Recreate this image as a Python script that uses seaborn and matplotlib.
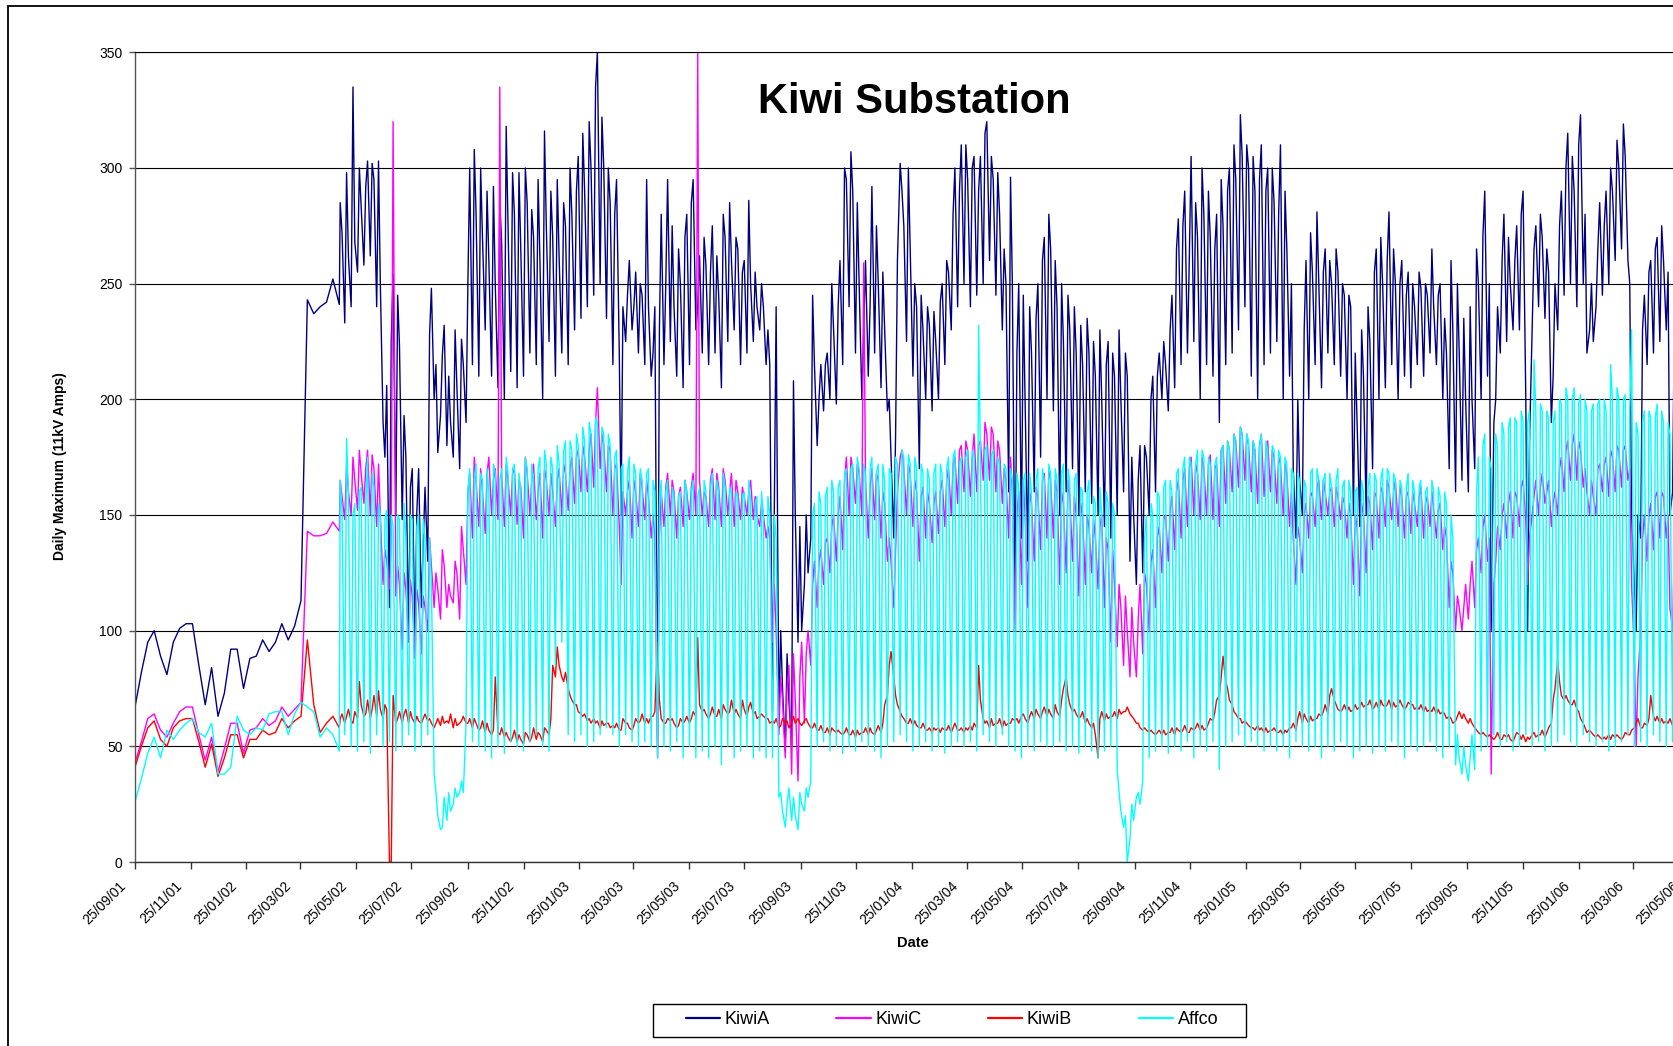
import pandas as pd
import matplotlib
matplotlib.use("Agg")
import matplotlib.pyplot as plt
import matplotlib.dates as mdates
import matplotlib.transforms as mtransforms
from matplotlib.patches import Rectangle
from matplotlib.lines import Line2D
import seaborn as sns

series_names = ["KiwiA", "KiwiC", "KiwiB", "Affco"]
series_colors = ["#000080", "#FF00FF", "#FF0000", "#00FFFF"]

# Weekly readings, 25/09/01 .. 07/05/02
weekly_start = "2001-09-25"
kiwi_a_weekly = [67, 82, 95, 100, 89, 81, 95, 101, 103, 103, 85, 68, 84, 63, 73, 92, 92,
                 75, 88, 89, 96, 91, 95, 103, 96, 102, 113, 243, 237, 240, 242, 252, 241]
kiwi_c_weekly = [43, 52, 62, 64, 57, 54, 60, 65, 67, 67, 55, 44, 54, 39, 49, 60, 60,
                 47, 57, 58, 62, 59, 61, 67, 63, 66, 69, 143, 141, 141, 142, 147, 143]
kiwi_b_weekly = [41, 50, 58, 61, 53, 50, 58, 61, 62, 62, 52, 41, 51, 37, 45, 55, 55,
                 45, 53, 53, 57, 55, 56, 62, 58, 61, 63, 96, 68, 56, 60, 63, 58]
affco_weekly = [26, 36, 47, 54, 45, 57, 53, 57, 60, 62, 56, 54, 60, 38, 38, 41, 63,
                57, 55, 58, 57, 64, 65, 65, 55, 64, 69, 67, 65, 54, 58, 55, 48]

# From 08/05/02: three readings per week (day 0, day 2 and the weekend low on day 5)
daily_start = "2002-05-08"
day_offsets = [0, 2, 5]

kiwi_a = [
    285, 272, 233, 298, 262, 240, 335, 268, 255, 300, 283, 258, 292, 303, 262,
    302, 295, 240, 303, 250, 190, 175, 206, 110, 226, 254, 150, 245, 223, 148,
    193, 175, 100, 162, 170, 95, 151, 170, 110, 137, 162, 130, 228, 248, 200,
    215, 177, 193, 219, 232, 180, 210, 190, 175, 230, 205, 170, 226, 215, 190,
    250, 300, 215, 308, 280, 210, 300, 270, 230, 290, 260, 210, 292, 250, 205,
    285, 268, 200, 318, 275, 212, 298, 280, 205, 298, 265, 210, 300, 285, 220,
    282, 270, 215, 295, 260, 200, 316, 275, 225, 290, 270, 210, 295, 262, 220,
    285, 275, 215, 300, 280, 230, 290, 305, 235, 315, 290, 240, 320, 300, 245,
    335, 350, 250, 322, 300, 235, 300, 285, 215, 280, 295, 220, 150, 240, 225,
    245, 260, 230, 240, 255, 220, 250, 245, 215, 295, 240, 210, 220, 240, 50,
    230, 280, 215, 250, 295, 225, 275, 240, 210, 265, 250, 205, 270, 280, 215,
    285, 295, 230, 240, 262, 220, 270, 258, 215, 255, 275, 220, 262, 245, 205,
    280, 270, 225, 285, 260, 230, 270, 265, 215, 255, 260, 220, 286, 250, 225,
    255, 240, 230, 250, 240, 215, 230, 215, 65, 150, 240, 60, 100, 75, 48,
    90, 70, 50, 208, 150, 95, 145, 100, 120, 150, 125, 140, 245, 215, 180,
    200, 215, 195, 215, 220, 200, 250, 230, 198, 240, 260, 215, 300, 295, 240,
    307, 290, 220, 285, 250, 200, 230, 260, 210, 240, 292, 220, 275, 250, 205,
    255, 230, 195, 200, 175, 140, 185, 260, 302, 290, 275, 225, 300, 265, 210,
    250, 240, 170, 245, 230, 200, 240, 232, 195, 238, 225, 200, 242, 250, 215,
    260, 255, 230, 280, 300, 240, 290, 310, 250, 310, 295, 240, 300, 305, 245,
    290, 305, 250, 315, 320, 260, 305, 295, 245, 298, 280, 230, 265, 250, 160,
    296, 250, 110, 220, 250, 140, 245, 200, 130, 240, 220, 160, 235, 250, 175,
    260, 270, 200, 280, 265, 195, 260, 240, 150, 250, 225, 160, 245, 230, 170,
    240, 220, 150, 232, 215, 160, 235, 220, 155, 225, 210, 150, 230, 200, 145,
    215, 225, 140, 220, 210, 150, 230, 200, 160, 220, 210, 130, 175, 150, 120,
    165, 180, 125, 180, 175, 150, 200, 210, 160, 210, 220, 200, 225, 215, 195,
    230, 245, 205, 265, 278, 215, 275, 290, 220, 260, 305, 225, 285, 270, 200,
    300, 280, 215, 290, 270, 210, 265, 280, 190, 295, 275, 215, 290, 300, 220,
    310, 295, 230, 323, 305, 240, 310, 300, 210, 305, 290, 200, 295, 310, 215,
    290, 300, 220, 300, 285, 225, 280, 310, 200, 290, 265, 210, 250, 170, 140,
    200, 165, 150, 230, 260, 200, 272, 255, 215, 281, 250, 205, 255, 265, 220,
    260, 250, 215, 265, 255, 210, 250, 245, 200, 245, 240, 150, 220, 190, 145,
    230, 210, 150, 240, 225, 170, 255, 265, 200, 270, 250, 205, 260, 281, 215,
    265, 250, 200, 250, 260, 210, 245, 255, 205, 250, 240, 215, 255, 248, 210,
    250, 245, 220, 265, 240, 215, 245, 250, 200, 235, 220, 170, 260, 230, 160,
    250, 220, 165, 235, 200, 160, 240, 200, 170, 265, 250, 200, 271, 290, 210,
    250, 100, 190, 200, 240, 220, 260, 280, 225, 270, 250, 230, 260, 275, 230,
    280, 290, 200, 100, 180, 230, 265, 275, 240, 280, 270, 235, 265, 255, 190,
    210, 250, 230, 275, 290, 245, 300, 315, 250, 305, 290, 240, 310, 323, 250,
    280, 220, 230, 250, 225, 240, 265, 285, 245, 275, 290, 250, 300, 290, 260,
    312, 300, 265, 319, 305, 260, 250, 150, 120, 100, 150, 140, 230, 245, 215,
    255, 260, 220, 265, 270, 225, 275, 260, 230, 255, 150, 160, 240, 230, 200,
]

kiwi_c = [
    165, 158, 148, 172, 160, 150, 175, 165, 152, 178, 168, 155, 170, 178, 150,
    176, 170, 145, 172, 150, 120, 135, 130, 118, 140, 320, 115, 128, 120, 92,
    125, 118, 95, 122, 115, 88, 118, 112, 90, 115, 110, 100, 140, 128, 110,
    125, 118, 105, 135, 128, 110, 120, 115, 112, 130, 125, 105, 145, 135, 120,
    160, 168, 140, 175, 165, 145, 170, 160, 142, 168, 175, 150, 165, 170, 148,
    335, 168, 145, 172, 165, 150, 168, 170, 146, 165, 162, 140, 175, 168, 150,
    165, 172, 148, 160, 168, 140, 170, 165, 150, 168, 160, 145, 165, 170, 150,
    172, 168, 152, 170, 175, 155, 175, 178, 160, 180, 175, 160, 178, 185, 162,
    190, 205, 170, 185, 180, 160, 180, 178, 150, 170, 172, 145, 120, 160, 150,
    160, 165, 140, 165, 160, 145, 168, 162, 148, 165, 158, 140, 150, 140, 45,
    140, 160, 145, 162, 168, 150, 165, 160, 140, 158, 162, 145, 165, 160, 148,
    162, 168, 150, 350, 165, 150, 160, 158, 145, 165, 170, 148, 168, 162, 145,
    170, 165, 150, 160, 168, 145, 165, 160, 148, 162, 158, 150, 160, 165, 148,
    158, 150, 145, 155, 150, 140, 145, 140, 95, 120, 100, 55, 80, 70, 45,
    75, 85, 38, 90, 70, 35, 80, 95, 60, 90, 100, 85, 120, 130, 110,
    130, 135, 120, 138, 140, 125, 145, 150, 130, 150, 158, 135, 165, 175, 150,
    175, 170, 155, 172, 168, 150, 259, 165, 140, 162, 170, 148, 168, 165, 140,
    160, 155, 130, 140, 130, 110, 135, 160, 175, 178, 170, 150, 172, 168, 145,
    165, 160, 130, 158, 162, 140, 160, 155, 138, 155, 160, 142, 160, 165, 145,
    165, 170, 150, 172, 175, 155, 178, 180, 160, 182, 178, 158, 175, 185, 160,
    180, 182, 165, 190, 185, 165, 188, 185, 160, 182, 178, 155, 170, 165, 140,
    175, 160, 100, 150, 160, 120, 165, 150, 110, 160, 155, 130, 162, 158, 135,
    165, 168, 140, 170, 165, 140, 165, 160, 120, 160, 155, 125, 165, 158, 130,
    158, 150, 115, 155, 150, 120, 150, 145, 125, 148, 140, 118, 145, 150, 110,
    140, 135, 95, 135, 120, 93, 120, 110, 85, 115, 100, 80, 110, 95, 80,
    105, 120, 90, 125, 120, 100, 130, 135, 110, 140, 145, 125, 148, 150, 130,
    152, 158, 135, 160, 165, 140, 165, 170, 145, 170, 175, 150, 172, 168, 148,
    175, 170, 150, 172, 176, 148, 170, 172, 145, 178, 180, 155, 182, 178, 160,
    185, 182, 162, 188, 185, 165, 185, 180, 160, 182, 178, 155, 180, 185, 158,
    178, 182, 160, 178, 175, 155, 175, 172, 150, 172, 168, 145, 160, 140, 120,
    145, 140, 125, 150, 155, 140, 160, 158, 145, 162, 165, 148, 165, 160, 150,
    160, 162, 145, 162, 158, 148, 158, 155, 140, 155, 150, 120, 150, 145, 115,
    155, 150, 125, 158, 155, 135, 160, 158, 140, 162, 160, 145, 165, 162, 148,
    160, 165, 145, 162, 158, 140, 158, 160, 142, 160, 155, 145, 158, 162, 140,
    155, 158, 145, 160, 152, 140, 152, 155, 135, 145, 140, 110, 130, 125, 100,
    115, 110, 100, 110, 120, 105, 120, 130, 110, 135, 140, 125, 145, 150, 130,
    140, 38, 120, 130, 145, 135, 150, 155, 140, 155, 160, 140, 160, 158, 145,
    162, 165, 148, 120, 140, 150, 158, 165, 150, 162, 168, 155, 160, 165, 145,
    155, 160, 150, 170, 175, 160, 178, 182, 165, 180, 185, 165, 182, 178, 162,
    170, 160, 150, 165, 158, 150, 170, 172, 160, 172, 175, 158, 178, 175, 160,
    180, 178, 162, 178, 180, 165, 170, 120, 90, 50, 80, 100, 140, 150, 130,
    150, 155, 135, 158, 160, 140, 160, 158, 140, 150, 110, 100, 140, 145, 120,
]

kiwi_b = [
    62, 64, 60, 63, 66, 61, 60, 65, 62, 78, 68, 63, 64, 70, 62,
    66, 72, 63, 74, 66, 62, 68, 66, 0, 0, 72, 60, 62, 65, 60,
    64, 66, 60, 65, 62, 60, 63, 61, 60, 62, 64, 61, 62, 60, 58,
    60, 62, 59, 63, 60, 61, 60, 64, 58, 62, 59, 60, 61, 63, 60,
    60, 62, 58, 62, 60, 57, 58, 61, 56, 60, 57, 55, 57, 80, 56,
    55, 58, 54, 56, 54, 52, 54, 57, 52, 55, 53, 51, 56, 55, 52,
    54, 58, 53, 56, 55, 52, 58, 57, 55, 62, 85, 80, 93, 85, 80,
    78, 82, 75, 72, 70, 68, 68, 65, 64, 63, 64, 61, 62, 60, 62,
    60, 61, 58, 61, 59, 60, 60, 58, 59, 58, 60, 57, 57, 62, 60,
    60, 58, 57, 59, 62, 60, 61, 64, 60, 62, 60, 63, 63, 65, 95,
    70, 62, 60, 60, 62, 61, 62, 60, 58, 59, 62, 60, 61, 63, 60,
    62, 65, 63, 97, 68, 65, 66, 64, 62, 64, 67, 63, 63, 66, 62,
    68, 66, 64, 65, 70, 64, 66, 64, 62, 70, 66, 63, 67, 69, 64,
    65, 62, 63, 64, 63, 62, 62, 60, 61, 60, 62, 58, 59, 62, 60,
    61, 58, 60, 63, 60, 62, 60, 59, 61, 62, 60, 58, 58, 60, 57,
    57, 59, 56, 56, 58, 55, 58, 57, 56, 57, 56, 55, 56, 58, 55,
    55, 57, 54, 57, 55, 56, 56, 58, 55, 58, 56, 55, 57, 59, 56,
    60, 68, 72, 85, 91, 80, 72, 68, 65, 63, 62, 60, 60, 62, 59,
    61, 59, 58, 58, 60, 57, 57, 58, 56, 58, 57, 58, 56, 58, 57,
    57, 59, 56, 58, 60, 57, 57, 58, 56, 58, 57, 59, 57, 60, 58,
    85, 70, 62, 60, 61, 58, 62, 59, 60, 60, 62, 58, 61, 59, 60,
    60, 62, 61, 62, 60, 63, 64, 62, 60, 63, 65, 62, 66, 64, 62,
    65, 67, 63, 66, 64, 62, 68, 65, 63, 70, 75, 80, 72, 68, 65,
    66, 64, 62, 63, 65, 60, 62, 60, 58, 60, 55, 45, 62, 65, 61,
    64, 62, 63, 63, 65, 62, 66, 64, 65, 65, 67, 64, 63, 62, 60,
    60, 58, 57, 58, 57, 56, 57, 56, 55, 56, 57, 55, 57, 55, 56,
    56, 58, 55, 58, 57, 56, 57, 59, 56, 56, 58, 57, 58, 60, 57,
    59, 57, 58, 60, 62, 61, 65, 70, 72, 80, 89, 78, 75, 70, 68,
    65, 64, 62, 62, 60, 61, 60, 59, 58, 58, 57, 59, 57, 58, 56,
    58, 56, 57, 57, 58, 56, 56, 57, 55, 57, 56, 58, 58, 60, 57,
    62, 65, 60, 64, 62, 60, 63, 61, 62, 62, 64, 63, 65, 68, 64,
    72, 75, 70, 68, 66, 65, 66, 68, 65, 67, 65, 66, 68, 66, 67,
    69, 67, 68, 68, 70, 66, 67, 69, 66, 70, 68, 67, 68, 70, 66,
    69, 67, 68, 70, 68, 66, 67, 69, 68, 68, 66, 67, 66, 68, 65,
    67, 65, 66, 65, 67, 64, 66, 64, 65, 64, 62, 63, 62, 60, 61,
    63, 65, 62, 64, 62, 60, 62, 60, 58, 57, 56, 55, 56, 55, 54,
    55, 54, 53, 54, 56, 53, 53, 55, 54, 55, 53, 52, 54, 56, 55,
    53, 55, 52, 54, 53, 55, 56, 54, 55, 55, 57, 54, 56, 58, 60,
    70, 75, 87, 78, 72, 70, 72, 70, 68, 68, 70, 66, 65, 62, 60,
    58, 56, 57, 56, 55, 54, 55, 54, 53, 54, 53, 55, 53, 55, 54,
    55, 54, 53, 54, 56, 55, 55, 57, 58, 60, 62, 58, 58, 60, 59,
    62, 72, 63, 61, 63, 60, 62, 60, 61, 60, 62, 59, 61, 60, 59,
]

affco = [
    165, 152, 55, 183, 160, 50, 150, 155, 48, 160, 162, 52, 155, 175, 47,
    168, 162, 55, 155, 150, 50, 148, 152, 52, 150, 145, 48, 150, 148, 50,
    155, 140, 55, 150, 148, 48, 145, 150, 50, 148, 140, 55, 140, 120, 38,
    30, 20, 14, 15, 28, 18, 30, 22, 25, 32, 28, 30, 35, 30, 60,
    160, 170, 52, 165, 172, 50, 168, 165, 48, 170, 160, 45, 172, 168, 50,
    165, 170, 47, 175, 168, 52, 170, 172, 50, 168, 160, 48, 175, 170, 52,
    172, 165, 55, 170, 175, 50, 178, 172, 48, 175, 170, 85, 180, 172, 95,
    178, 182, 55, 182, 178, 52, 185, 180, 55, 188, 182, 50, 190, 185, 52,
    192, 190, 55, 188, 185, 58, 185, 180, 55, 175, 178, 50, 170, 172, 55,
    168, 175, 52, 172, 168, 50, 170, 165, 52, 168, 170, 50, 165, 160, 45,
    155, 165, 50, 160, 165, 48, 162, 158, 52, 158, 160, 45, 165, 160, 50,
    160, 165, 45, 158, 162, 48, 165, 160, 45, 162, 168, 50, 165, 160, 42,
    168, 162, 50, 162, 160, 45, 160, 158, 48, 158, 160, 50, 165, 155, 45,
    155, 158, 48, 160, 150, 45, 158, 150, 45, 150, 140, 28, 30, 22, 15,
    25, 32, 18, 28, 20, 14, 30, 25, 22, 32, 28, 35, 150, 155, 50,
    160, 155, 52, 158, 162, 48, 165, 160, 50, 162, 165, 47, 168, 170, 50,
    170, 172, 48, 175, 170, 52, 172, 168, 50, 170, 175, 48, 168, 172, 45,
    172, 165, 50, 170, 168, 52, 175, 172, 55, 178, 175, 52, 176, 172, 48,
    175, 170, 50, 172, 168, 52, 170, 165, 48, 168, 172, 50, 172, 168, 47,
    170, 175, 50, 175, 178, 52, 172, 175, 50, 175, 178, 52, 178, 175, 48,
    232, 175, 55, 178, 180, 52, 176, 178, 50, 175, 172, 55, 172, 170, 50,
    170, 165, 48, 168, 162, 45, 165, 168, 50, 168, 160, 48, 165, 170, 52,
    170, 165, 50, 172, 168, 50, 170, 165, 52, 168, 172, 48, 170, 165, 50,
    165, 168, 47, 162, 160, 50, 160, 165, 48, 158, 155, 45, 162, 150, 48,
    160, 155, 50, 155, 150, 40, 30, 22, 15, 20, 0, 10, 25, 18, 28,
    30, 25, 35, 140, 150, 45, 155, 150, 48, 160, 158, 50, 162, 165, 47,
    165, 160, 50, 168, 170, 48, 170, 175, 52, 175, 172, 45, 172, 178, 50,
    178, 175, 48, 175, 172, 52, 172, 175, 40, 178, 180, 50, 182, 178, 52,
    185, 182, 55, 188, 185, 50, 185, 182, 52, 182, 178, 50, 180, 185, 48,
    182, 178, 50, 180, 178, 48, 178, 175, 50, 175, 172, 45, 170, 168, 52,
    168, 165, 50, 165, 162, 48, 168, 170, 50, 170, 165, 45, 165, 168, 50,
    168, 162, 48, 165, 170, 52, 162, 165, 50, 165, 160, 45, 160, 162, 48,
    165, 160, 50, 162, 168, 47, 168, 165, 50, 165, 170, 48, 170, 168, 52,
    168, 165, 50, 165, 162, 45, 162, 168, 50, 165, 160, 48, 162, 165, 50,
    160, 162, 52, 165, 160, 48, 162, 158, 45, 160, 155, 50, 150, 140, 42,
    55, 45, 38, 50, 42, 35, 45, 55, 40, 160, 175, 48, 180, 185, 50,
    175, 170, 55, 185, 180, 50, 190, 185, 52, 188, 192, 48, 192, 190, 50,
    195, 190, 55, 190, 195, 50, 217, 195, 52, 198, 195, 48, 195, 192, 50,
    190, 195, 52, 200, 198, 55, 205, 200, 52, 200, 205, 50, 198, 202, 55,
    200, 195, 52, 195, 198, 50, 198, 200, 52, 200, 195, 48, 215, 200, 50,
    205, 200, 52, 200, 202, 55, 195, 230, 50, 190, 185, 52, 190, 195, 50,
    195, 192, 55, 192, 198, 52, 195, 190, 50, 190, 185, 52, 188, 185, 50,
]

y_ticks = [0, 50, 100, 150, 200, 250, 300, 350]


def feeder_frame(name, weekly_vals, later_vals):
    early_dates = list(pd.date_range(weekly_start, periods=len(weekly_vals), freq="7D"))
    weeks = pd.date_range(daily_start, periods=len(later_vals) // 3, freq="7D")
    later_dates = [w + pd.Timedelta(days=d) for w in weeks for d in day_offsets]
    vals = list(weekly_vals) + list(later_vals)[:len(later_dates)]
    return pd.DataFrame({"Date": early_dates + later_dates, "Amps": vals, "Feeder": name})


df = pd.concat([
    feeder_frame("KiwiA", kiwi_a_weekly, kiwi_a),
    feeder_frame("KiwiC", kiwi_c_weekly, kiwi_c),
    feeder_frame("KiwiB", kiwi_b_weekly, kiwi_b),
    feeder_frame("Affco", affco_weekly, affco),
], ignore_index=True)

sns.set_style("white")
plt.rcParams["font.family"] = ["Liberation Sans", "DejaVu Sans"]
plt.rcParams["text.color"] = "black"
plt.rcParams["axes.labelcolor"] = "black"
plt.rcParams["xtick.color"] = "black"
plt.rcParams["ytick.color"] = "black"

W, H = 1674, 1046
fig = plt.figure(figsize=(W / 100, H / 100), dpi=100)
fig.patch.set_facecolor("white")

x0 = pd.Timestamp("2001-09-25")
span_days = 1734
px_per_day = 0.912
ax = fig.add_axes([135 / W, 1 - 862 / H, span_days * px_per_day / W, (862 - 52.3) / H])

sns.lineplot(data=df, x="Date", y="Amps", hue="Feeder", hue_order=series_names,
             palette=dict(zip(series_names, series_colors)), estimator=None,
             linewidth=1.0, legend=False, ax=ax)

ax.set_xlim(x0, x0 + pd.Timedelta(days=span_days))
ax.set_ylim(0, 350)
ax.set_yticks(y_ticks)
ax.set_xlabel("")
ax.set_ylabel("")
ax.set_axisbelow(True)
ax.yaxis.grid(True, color="black", linewidth=0.8)
ax.xaxis.grid(False)

ax.xaxis.set_major_locator(mdates.MonthLocator(bymonth=[1, 3, 5, 7, 9, 11], bymonthday=25))
ax.xaxis.set_major_formatter(mdates.DateFormatter("%d/%m/%y"))

ax.spines["right"].set_visible(False)
ax.spines["top"].set_color("black")
ax.spines["top"].set_linewidth(0.8)
ax.spines["left"].set_color("#555555")
ax.spines["left"].set_linewidth(1.0)
ax.spines["bottom"].set_color("#333333")
ax.spines["bottom"].set_linewidth(1.0)

ax.tick_params(axis="x", bottom=True, direction="out", length=5, width=1,
               color="#333333", pad=7, labelsize=10, labelcolor="black", labelrotation=45)
ax.tick_params(axis="y", left=True, direction="out", length=4, width=1,
               color="#555555", pad=5, labelsize=10, labelcolor="black")

shift = mtransforms.ScaledTranslation(-6 / 100, 0, fig.dpi_scale_trans)
for lbl in ax.get_xticklabels():
    lbl.set_horizontalalignment("right")
    lbl.set_transform(lbl.get_transform() + shift)

# Titles and axis captions
fig.text(914 / W, 1 - 113 / H, "Kiwi Substation", ha="center", va="baseline",
         fontsize=30, fontweight="bold", color="black", zorder=5)
fig.text(60 / W, 1 - 466 / H, "Daily Maximum (11kV Amps)", rotation=90,
         ha="center", va="center", fontsize=10, fontweight="bold", color="black")
fig.text(913 / W, 1 - 943 / H, "Date", ha="center", va="center",
         fontsize=10.5, fontweight="bold", color="black")

# Legend entries, with the boxed frame drawn separately
handles = [Line2D([], [], color=c, lw=1.6) for c in series_colors]
fig.legend(handles, series_names, loc="center", bbox_to_anchor=(952 / W, 1 - 1020 / H),
           ncol=4, fontsize=13, frameon=False, handlelength=1.9, handletextpad=0.25,
           columnspacing=3.7, borderpad=0.3)
fig.patches.append(Rectangle((653 / W, 1 - 1037 / H), (1246 - 653) / W, 33 / H,
                             transform=fig.transFigure, fill=False, edgecolor="black",
                             linewidth=1.0, zorder=1))

# Chart-area border
fig.patches.append(Rectangle((8.3 / W, -0.05), 1.2, 1.05 - 6 / H, transform=fig.transFigure,
                             fill=False, edgecolor="black", linewidth=1.3, zorder=0))

fig.savefig("out.png", dpi=100)
